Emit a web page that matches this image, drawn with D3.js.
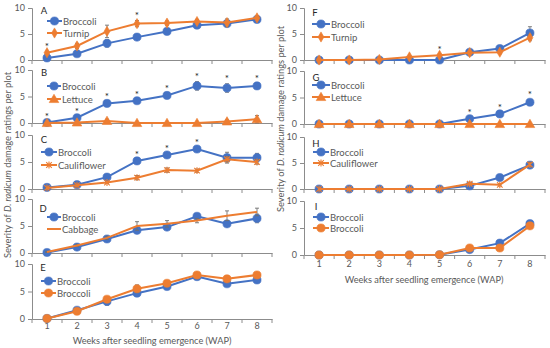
<!DOCTYPE html>
<html><head><meta charset="utf-8">
<script src="https://cdn.jsdelivr.net/npm/d3@7"></script>
<style>
body{margin:0;background:#fff;}
text{font-family:Lato,"Open Sans",sans-serif;}
</style></head>
<body><svg id="c" width="550" height="348"></svg>
<script>
// ---------- DATA ----------
const weeks = [1,2,3,4,5,6,7,8];
const yTicks = [0,5,10];
// Left column (A-E)
const aBroccoli = [0.4,1.2,3.2,4.4,5.5,6.7,7.0,7.8];
const aBroccoliErr = [0.2,0.3,0.7,0.4,0.4,0.6,0.6,0.3];
const aTurnip = [1.4,2.7,5.5,7.0,7.1,7.4,7.2,8.1];
const aTurnipErr = [0.3,0.5,1.2,0.6,0.4,0.4,0.7,0.3];
const aSig = [1,4];
const bBroccoli = [0.1,1.0,3.7,4.2,5.2,7.0,6.6,7.0];
const bBroccoliErr = [0.1,0.3,0.3,0.3,0.3,0.8,0.8,0.5];
const bLettuce = [0,0.1,0.4,0,0,0,0.3,0.7];
const bLettuceErr = [0,0.1,0.3,0,0,0,0.3,0.7];
const bSig = [1,2,3,4,5,6,7,8];
const cBroccoli = [0.3,0.8,2.2,5.2,6.3,7.4,5.8,5.8];
const cBroccoliErr = [0.1,0.2,0.3,0.3,0.3,0.3,1.0,0.8];
const cCauliflower = [0.2,0.7,1.2,2.1,3.5,3.4,5.5,5.0];
const cCauliflowerErr = [0.1,0.2,0.2,0.4,0.4,0.3,0.5,0.4];
const cSig = [4,5,6];
const dBroccoli = [0.1,1.1,2.6,4.2,4.8,6.8,5.4,6.4];
const dBroccoliErr = [0.1,0.2,0.3,0.4,0.4,0.4,0.4,0.8];
const dCabbage = [0.2,1.4,2.8,5.0,5.4,6.0,6.9,7.6];
const dCabbageErr = [0.1,0.2,0.3,0.8,0.6,0.4,0.9,0.7];
const dSig = [];
const eBroccoli1 = [0.1,1.6,3.2,4.7,5.9,7.7,6.4,7.1];
const eBroccoli1Err = [0.1,0.2,0.7,0.4,0.3,0.4,0.3,0.5];
const eBroccoli2 = [0.1,1.4,3.6,5.5,6.5,8.0,7.3,8.0];
const eBroccoli2Err = [0.1,0.2,0.4,0.7,0.3,0.3,0.3,0.3];
const eSig = [];
// Right column (F-I)
const fBroccoli = [0,0,0,0,0,1.5,2.2,5.2];
const fBroccoliErr = [0,0,0,0,0,0.2,0.4,1.2];
const fTurnip = [0,0,0.1,0.6,0.9,1.4,1.5,4.3];
const fTurnipErr = [0,0,0.1,0.2,0.2,0.2,0.3,0.6];
const fSig = [5];
const gBroccoli = [0,0,0,0,0,1.0,1.9,4.1];
const gBroccoliErr = [0,0,0,0,0,0.2,0.3,0.5];
const gLettuce = [0,0,0,0,0,0,0,0];
const gLettuceErr = [0,0,0,0,0,0,0,0];
const gSig = [6,7,8];
const hBroccoli = [0,0,0,0,0,0.6,2.2,4.6];
const hBroccoliErr = [0,0,0,0,0,0.2,0.3,0.4];
const hCauliflower = [0,0,0,0,0,1.0,0.8,4.7];
const hCauliflowerErr = [0,0,0,0,0,0.2,0.2,0.4];
const hSig = [];
const iBroccoli1 = [0,0,0,0,0.05,1.0,2.2,5.8];
const iBroccoli1Err = [0,0,0,0,0,0.2,0.5,0.4];
const iBroccoli2 = [0,0,0,0,0.05,1.3,1.3,5.4];
const iBroccoli2Err = [0,0,0,0,0,0.2,0.2,0.3];
const iSig = [];
const xTitle = "Weeks after seedling emergence (WAP)";

// ---------- STYLE / LAYOUT ----------
const BLUE = "#4472C4", ORANGE = "#ED7D31";
const AX = "#8c8c8c", TXT = "#595959";
const cols = { L:[32,272], R:[304,545] };

const panels = [
 {id:"A", col:"L", y:[8,60], s1:["Broccoli",aBroccoli,aBroccoliErr,"circle"], s2:["Turnip",aTurnip,aTurnipErr,"diamond"], sig:aSig,
  lg:{lx:44,ly:10,r1:21,r2:33,x0:47,x1:62}},
 {id:"B", col:"L", y:[70,123], s1:["Broccoli",bBroccoli,bBroccoliErr,"circle"], s2:["Lettuce",bLettuce,bLettuceErr,"triangle"], sig:bSig,
  lg:{lx:44,ly:72,r1:86,r2:99,x0:47,x1:61}},
 {id:"C", col:"L", y:[135,189], s1:["Broccoli",cBroccoli,cBroccoliErr,"circle"], s2:["Cauliflower",cCauliflower,cCauliflowerErr,"star"], sig:cSig,
  lg:{lx:44,ly:139,r1:152,r2:165,x0:41,x1:57}},
 {id:"D", col:"L", y:[199,253], s1:["Broccoli",dBroccoli,dBroccoliErr,"circle"], s2:["Cabbage",dCabbage,dCabbageErr,"none"], sig:dSig,
  lg:{lx:43,ly:208,r1:217,r2:229,x0:47,x1:61}},
 {id:"E", col:"L", y:[264,319], s1:["Broccoli",eBroccoli1,eBroccoli1Err,"circle"], s2:["Broccoli",eBroccoli2,eBroccoli2Err,"circle"], sig:eSig,
  lg:{lx:43,ly:267,r1:281,r2:293,x0:41,x1:56}, labels:true},
 {id:"F", col:"R", y:[8,60], s1:["Broccoli",fBroccoli,fBroccoliErr,"circle"], s2:["Turnip",fTurnip,fTurnipErr,"diamond"], sig:fSig,
  lg:{lx:315,ly:12,r1:24,r2:37,x0:312,x1:330}},
 {id:"G", col:"R", y:[71,124], s1:["Broccoli",gBroccoli,gBroccoliErr,"circle"], s2:["Lettuce",gLettuce,gLettuceErr,"triangle"], sig:gSig,
  lg:{lx:316,ly:77,r1:85,r2:97,x0:312,x1:330}},
 {id:"H", col:"R", y:[137,189], s1:["Broccoli",hBroccoli,hBroccoliErr,"circle"], s2:["Cauliflower",hCauliflower,hCauliflowerErr,"star"], sig:hSig,
  lg:{lx:316,ly:143,r1:152,r2:163,x0:313,x1:329}},
 {id:"I", col:"R", y:[201,255], s1:["Broccoli",iBroccoli1,iBroccoli1Err,"circle"], s2:["Broccoli",iBroccoli2,iBroccoli2Err,"circle"], sig:iSig,
  lg:{lx:316,ly:206,r1:217,r2:228,x0:313,x1:329}, labels:true}
];

const svg = d3.select("#c");

function marker(g, type, color, x, y){
  if(type==="none") return;
  if(type==="star"){
    const s=2.8;
    g.append("path").attr("d",`M${x-s},${y-s}L${x+s},${y+s}M${x-s},${y+s}L${x+s},${y-s}M${x},${y-s-0.6}L${x},${y+s+0.6}`)
      .attr("stroke",color).attr("stroke-width",1.1).attr("fill","none");
    return;
  }
  const sym = type==="circle"?d3.symbolCircle: type==="diamond"?d3.symbolDiamond: d3.symbolTriangle;
  const size = type==="circle"?52: type==="diamond"?30: 40;
  g.append("path").attr("d",d3.symbol().type(sym).size(size)())
    .attr("transform",`translate(${x},${y+(type==="triangle"?0.8:0)})`).attr("fill",color).attr("stroke",color).attr("stroke-width",0.6);
}

panels.forEach(p=>{
  const x = d3.scaleBand().domain(weeks).range(cols[p.col]).paddingInner(0).paddingOuter(0);
  const y = d3.scaleLinear().domain([0,10]).range([p.y[1],p.y[0]]);
  const g = svg.append("g");
  // y axis
  const ya = g.append("g").attr("transform",`translate(${cols[p.col][0]},0)`)
    .call(d3.axisLeft(y).tickValues(yTicks).tickSize(4).tickPadding(3));
  // x axis
  const xa = g.append("g").attr("transform",`translate(0,${p.y[1]})`)
    .call(d3.axisBottom(x).tickSize(0).tickPadding(p.col==="L"?4:6).tickFormat(p.labels?(d=>d):(()=>"")));
  [ya,xa].forEach(a=>{
    a.select(".domain").attr("stroke",AX).attr("stroke-width",1);
    a.selectAll(".tick line").attr("stroke",AX);
    a.selectAll("text").attr("fill",TXT).attr("font-size","9px").attr("font-family","Lato");
  });
  // x tick marks between categories
  const bounds = weeks.map(w=>x(w)).concat([cols[p.col][1]]);
  xa.selectAll(".bt").data(bounds).join("line").attr("class","bt")
    .attr("x1",d=>d).attr("x2",d=>d).attr("y1",0).attr("y2",4).attr("stroke",AX);
  const cx = w=>x(w)+x.bandwidth()/2;
  // series
  [[p.s1,BLUE],[p.s2,ORANGE]].forEach(([s,color])=>{
    const vals = s[1], errs = s[2];
    const eg = g.append("g");
    weeks.forEach((w,i)=>{
      if(errs[i]>0.05){
        const x0=cx(w), yt=y(vals[i]+errs[i]), yb=y(Math.max(0,vals[i]-errs[i]));
        eg.append("path").attr("d",`M${x0},${yt}L${x0},${yb}M${x0-2},${yt}L${x0+2},${yt}M${x0-2},${yb}L${x0+2},${yb}`)
          .attr("stroke","#6f6f6f").attr("stroke-width",0.9).attr("fill","none");
      }
    });
    g.append("path").datum(weeks.map((w,i)=>[cx(w),y(vals[i])]))
      .attr("d",d3.line()).attr("fill","none").attr("stroke",color).attr("stroke-width",2);
    const mg = g.append("g");
    weeks.forEach((w,i)=>marker(mg,s[3],color,cx(w),y(vals[i])));
  });
  // asterisks
  p.sig.forEach(w=>{
    const i=w-1;
    const top=Math.max(p.s1[1][i]+p.s1[2][i], p.s2[1][i]+p.s2[2][i]);
    g.append("text").attr("x",cx(w)).attr("y",y(top)-1.5).attr("text-anchor","middle")
      .attr("font-size","10px").attr("fill","#262626").text("*");
  });
  // legend
  const L=p.lg;
  g.append("text").attr("x",L.lx).attr("y",L.ly).attr("dominant-baseline","central").attr("text-anchor","middle")
    .attr("font-size","9.5px").attr("fill","#262626").text(p.id);
  [[p.s1,BLUE,L.r1],[p.s2,ORANGE,L.r2]].forEach(([s,color,ry])=>{
    g.append("line").attr("x1",L.x0).attr("x2",L.x1).attr("y1",ry).attr("y2",ry).attr("stroke",color).attr("stroke-width",2);
    marker(g,s[3],color,(L.x0+L.x1)/2,ry);
    g.append("text").attr("x",L.x1+1).attr("y",ry).attr("dominant-baseline","central")
      .attr("font-size","9.5px").attr("fill",TXT).text(s[0]);
  });
});

// axis titles
function yTitle(xp, yp){
  const t = svg.append("text").attr("transform",`translate(${xp},${yp}) rotate(-90)`).attr("text-anchor","middle")
    .attr("font-size","9.3px").attr("fill",TXT);
  t.append("tspan").text("Severity of ");
  t.append("tspan").attr("font-style","italic").text("D. radicum");
  t.append("tspan").text(" damage ratings per plot");
}
yTitle(11,165);
yTitle(284,119);
svg.append("text").attr("x",152).attr("y",344).attr("text-anchor","middle").attr("font-size","9.2px").attr("fill",TXT).text(xTitle);
svg.append("text").attr("x",424).attr("y",283).attr("text-anchor","middle").attr("font-size","9.2px").attr("fill",TXT).text(xTitle);
</script></body></html>
